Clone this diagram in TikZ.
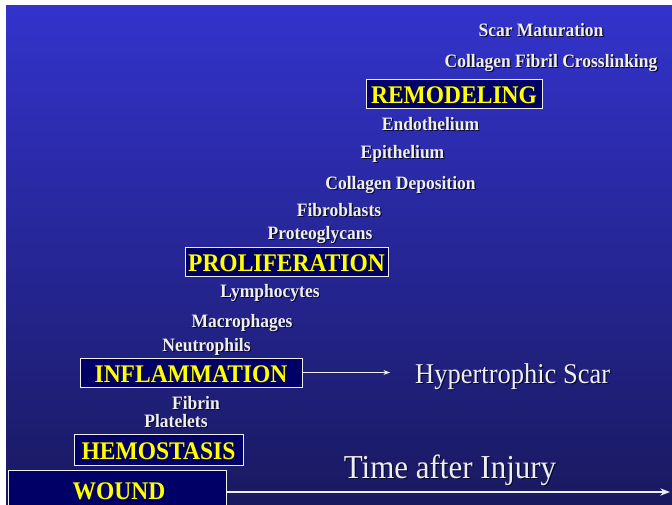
\documentclass[tikz,border=0pt]{standalone}
\usepackage{fontspec}
\usepackage{graphicx}
\setmainfont{Liberation Serif}
\usetikzlibrary{positioning, arrows.meta}
\definecolor{bgtop}{RGB}{51,51,204}
\definecolor{bgbottom}{RGB}{25,25,96}
\definecolor{boxnavy}{RGB}{0,0,102}
\definecolor{labelwhite}{RGB}{238,238,245}
\definecolor{titleyellow}{RGB}{255,255,0}
\definecolor{shadowdark}{RGB}{10,10,40}
\newcommand{\shtxt}[1]{\scalebox{1}[1.08]{\rlap{\kern1.2pt\raisebox{-1.2pt}{\color{shadowdark}#1}}#1}}

\begin{document}
\begin{tikzpicture}[x=1pt, y=-1pt, >=Stealth,
    cell/.style={text=labelwhite, font=\fontsize{17.5}{20}\selectfont\bfseries, inner sep=0pt, anchor=base},
    phase/.style={draw=labelwhite, fill=boxnavy, text=titleyellow,
      font=\fontsize{23.5}{26}\selectfont\bfseries, inner sep=0pt, line width=0.8pt,
      text height=20pt, text depth=0pt},
    big/.style={text=labelwhite, inner sep=0pt, anchor=base}]
  \useasboundingbox (0,0) rectangle (672,504);
  \fill[white] (0,0) rectangle (672,504);
  \shade[top color=bgtop, bottom color=bgbottom] (6,5) rectangle (672,504);
  % phases
  \node[phase, minimum width=176pt, minimum height=29pt] (remod) at (454,93.5) {\shtxt{REMODELING}};
  \node[phase, minimum width=203pt, minimum height=29pt] (prolif) at (286.5,261.5) {\shtxt{PROLIFERATION}};
  \node[phase, minimum width=222pt, minimum height=29pt] (inflam) at (191,372.5) {\shtxt{INFLAMMATION}};
  \node[phase, minimum width=169pt, minimum height=31pt] (hemo) at (158.5,449.5) {\shtxt{HEMOSTASIS}};
  \node[phase, minimum width=218pt, minimum height=46pt, anchor=north west] (wound) at (8,470) {};
  \node[text=titleyellow, font=\fontsize{23.5}{26}\selectfont\bfseries, inner sep=0pt, anchor=base] (woundtxt) at (119,499) {\shtxt{WOUND}};
  % cells and events
  \node[cell] (scar) at (541,36.5) {\shtxt{Scar Maturation}};
  \node[cell] (crosslink) at (551,67.5) {\shtxt{Collagen Fibril Crosslinking}};
  \node[cell] (endo) at (430.5,130) {\shtxt{Endothelium}};
  \node[cell] (epi) at (402.5,158) {\shtxt{Epithelium}};
  \node[cell] (colldep) at (400.5,189.5) {\shtxt{Collagen Deposition}};
  \node[cell] (fibro) at (339,216) {\shtxt{Fibroblasts}};
  \node[cell] (proteo) at (320,239.5) {\shtxt{Proteoglycans}};
  \node[cell] (lympho) at (270,297.5) {\shtxt{Lymphocytes}};
  \node[cell] (macro) at (242,327) {\shtxt{Macrophages}};
  \node[cell] (neutro) at (206.5,351) {\shtxt{Neutrophils}};
  \node[cell] (fibrin) at (196,409) {\shtxt{Fibrin}};
  \node[cell] (plate) at (176,427) {\shtxt{Platelets}};
  % outcome and axis
  \node[big, font=\fontsize{26.5}{30}\selectfont, anchor=base west] (hyper) at (415,383) {\shtxt{Hypertrophic Scar}};
  \node[big, font=\fontsize{31}{35}\selectfont] (time) at (450,478) {\shtxt{Time after Injury}};
  \coordinate (axisend) at (670,492);
  \draw[->, labelwhite, line width=0.8pt] (inflam.east) -- ([xshift=-25pt]hyper.west |- inflam.east);
  \draw[->, labelwhite, line width=1.5pt] (wound.east |- axisend) -- (axisend);
\end{tikzpicture}
\end{document}
